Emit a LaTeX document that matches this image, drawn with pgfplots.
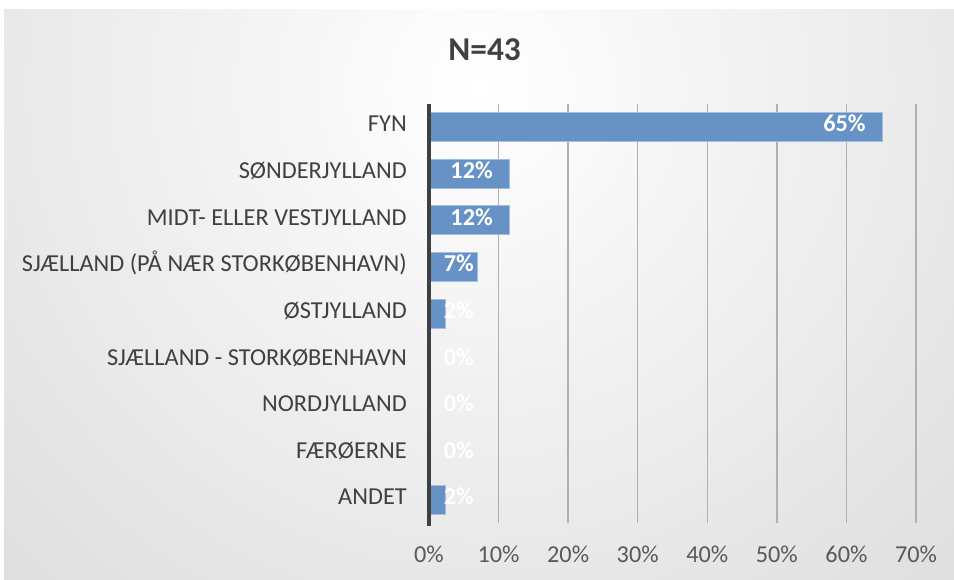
\documentclass[border=0pt]{standalone}
\usepackage{pgfplots}
\pgfplotsset{compat=1.18}
\usepackage{fontspec}
\setmainfont{Carlito}
\definecolor{barblue}{RGB}{102,146,198}
\definecolor{baredge}{RGB}{160,190,225}
\definecolor{txt}{RGB}{64,64,64}
\definecolor{ticktxt}{RGB}{89,89,89}
\definecolor{gridc}{RGB}{176,176,176}
\definecolor{bgout}{RGB}{196,196,196}
\begin{document}
\begin{tikzpicture}
\useasboundingbox (0,0) rectangle (715.5pt,435pt);
\fill[white] (0,0) rectangle (715.5pt,435pt);
\begin{scope}
\clip (3pt,0) rectangle (715.5pt,427.5pt);
\shade[inner color=white, outer color=bgout] (360pt,370pt) circle (940pt);
\end{scope}
\node[font=\fontsize{25}{28}\selectfont\bfseries, text=txt] at (363.5pt,397.5pt) {N=43};
\begin{axis}[
  scale only axis,
  at={(321.75pt,42.45pt)}, anchor=south west,
  width=365.25pt, height=314.7pt,
  xmin=0, xmax=70, ymin=-0.5, ymax=8.5,
  y dir=reverse,
  axis line style={draw=none},
  major tick length=0pt,
  xtick={0,10,20,30,40,50,60,70},
  xticklabels={0\%,10\%,20\%,30\%,40\%,50\%,60\%,70\%},
  xmajorgrids,
  grid style={gridc, line width=1pt},
  xticklabel style={font=\fontsize{18.2}{21}\selectfont, text=ticktxt, inner sep=0pt, anchor=base, yshift=-29.6pt},
  ytick={0,1,2,3,4,5,6,7,8},
  yticklabels={FYN,SØNDERJYLLAND,MIDT- ELLER VESTJYLLAND,SJÆLLAND (PÅ NÆR STORKØBENHAVN),ØSTJYLLAND,SJÆLLAND - STORKØBENHAVN,NORDJYLLAND,FÆRØERNE,ANDET},
  yticklabel style={font=\fontsize{18.25}{21}\selectfont, text=txt, inner sep=0pt, anchor=base east, xshift=-16.5pt, yshift=-0.36em},
  clip=false,
]
\addplot[xbar, bar width=21.75pt, fill=barblue, draw=baredge, line width=0.6pt] coordinates {
(65.1,0) (11.6,1) (11.6,2) (7.0,3) (2.3,4) (0,5) (0,6) (0,7) (2.3,8)};
\addplot[draw=none, mark=none, nodes near coords, point meta=explicit symbolic,
  nodes near coords style={font=\fontsize{18.2}{21}\selectfont\bfseries, text=white, inner sep=0pt, anchor=base east, yshift=-0.36em}]
  coordinates {
(62.8,0) [65\%] (9.2,1) [12\%] (9.2,2) [12\%] (6.47,3) [7\%] (6.47,4) [2\%] (6.47,5) [0\%] (6.47,6) [0\%] (6.47,7) [0\%] (6.47,8) [2\%]};
\draw[txt, line width=2.6pt] (axis cs:0,-0.5) -- (axis cs:0,8.55);
\end{axis}
\end{tikzpicture}
\end{document}
